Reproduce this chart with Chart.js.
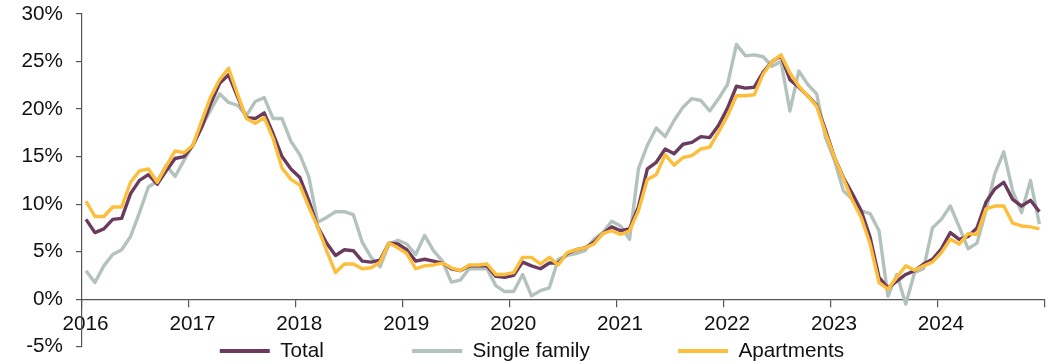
<!DOCTYPE html>
<html>
<head>
<meta charset="utf-8">
<script src="https://cdn.jsdelivr.net/npm/chart.js@4.4.1/dist/chart.umd.min.js"></script>
<style>
  html, body { margin: 0; padding: 0; background: #ffffff; }
  #wrap { width: 1061px; height: 364px; }
</style>
</head>
<body>
<div id="wrap"><canvas id="c" width="1061" height="364"></canvas></div>
<script>
// ---------------- data ----------------
const START_YEAR = 2016;
const YEAR_LABELS = ['2016', '2017', '2018', '2019', '2020', '2021', '2022', '2023', '2024', ''];
const SERIES_NAMES = ['Total', 'Single family', 'Apartments'];

const TOTAL = [
  8.4, 7.0, 7.4, 8.4, 8.5, 11.1, 12.5, 13.1, 12.1, 13.5, 14.8, 15.0,
  16.2, 18.1, 20.6, 22.7, 23.6, 21.3, 19.1, 19.0, 19.6, 17.4, 15.0, 13.7,
  12.8, 10.4, 7.6, 5.9, 4.6, 5.2, 5.1, 4.0, 3.9, 4.1, 5.9, 5.8,
  5.2, 4.0, 4.2, 4.0, 3.8, 3.2, 3.0, 3.5, 3.5, 3.5, 2.4, 2.3,
  2.5, 3.9, 3.5, 3.2, 3.8, 3.8, 4.8, 5.2, 5.4, 6.0, 6.9, 7.6,
  7.2, 7.4, 9.7, 13.7, 14.4, 15.8, 15.3, 16.3, 16.5, 17.1, 17.0, 18.3,
  20.1, 22.4, 22.2, 22.3, 23.9, 25.0, 25.6, 23.1, 22.3, 21.4, 20.4, 17.8,
  14.9, 12.8, 11.1, 9.3, 6.5, 2.3, 1.2, 1.9, 2.6, 3.0, 3.7, 4.2,
  5.3, 7.0, 6.3, 6.6, 7.5, 10.2, 11.6, 12.3, 10.5, 9.8, 10.4, 9.2
];
const SINGLE_FAMILY = [
  3.0, 1.75, 3.5, 4.7, 5.2, 6.6, 9.1, 11.8, 12.4, 14.1, 12.9, 14.6,
  16.2, 18.2, 19.9, 21.6, 20.7, 20.4, 19.3, 20.8, 21.2, 19.0, 19.0, 16.6,
  15.2, 12.9, 8.1, 8.6, 9.2, 9.2, 8.9, 6.0, 4.4, 3.4, 5.8, 6.2,
  5.8, 4.7, 6.7, 5.1, 4.0, 1.8, 2.0, 3.2, 3.2, 3.2, 1.4, 0.8,
  0.8, 2.6, 0.35, 0.9, 1.2, 4.2, 4.6, 4.8, 5.1, 6.3, 7.0, 8.2,
  7.7, 6.3, 13.7, 16.2, 18.0, 17.1, 18.8, 20.2, 21.1, 20.9, 19.8, 21.1,
  22.6, 26.8, 25.6, 25.7, 25.5, 24.5, 25.0, 19.8, 24.0, 22.6, 21.6, 17.0,
  14.6, 11.4, 10.5, 9.3, 9.0, 7.2, 0.3, 2.6, -0.5, 2.8, 3.2, 7.5,
  8.4, 9.8, 7.6, 5.3, 5.9, 9.3, 13.2, 15.5, 11.4, 9.1, 12.5, 7.9
];
const APARTMENTS = [
  10.3, 8.7, 8.7, 9.7, 9.7, 12.3, 13.5, 13.7, 12.3, 14.0, 15.6, 15.4,
  16.2, 18.8, 21.3, 23.1, 24.3, 21.6, 19.0, 18.5, 19.1, 16.9, 13.8, 12.6,
  12.0, 9.7, 7.6, 5.1, 2.8, 3.7, 3.7, 3.2, 3.3, 3.9, 5.9, 5.4,
  4.8, 3.2, 3.5, 3.6, 3.8, 3.3, 3.0, 3.6, 3.6, 3.7, 2.6, 2.6,
  2.8, 4.4, 4.4, 3.7, 4.4, 3.6, 4.9, 5.2, 5.4, 5.8, 6.9, 7.2,
  6.8, 7.2, 9.3, 12.6, 13.1, 15.2, 14.1, 14.9, 15.1, 15.8, 16.0, 17.6,
  19.3, 21.4, 21.4, 21.5, 23.7, 25.0, 25.7, 23.8, 22.4, 21.4, 20.3, 17.5,
  14.9, 12.7, 10.4, 8.6, 5.8, 1.75, 1.05, 2.3, 3.5, 3.05, 3.5, 3.9,
  4.9, 6.3, 5.8, 6.9, 6.8, 9.5, 9.8, 9.8, 8.0, 7.7, 7.6, 7.4
];

// monthly categories (one per value), plotted at mid-month on a month axis
const MONTHS = TOTAL.map((_, i) =>
  (START_YEAR + Math.floor(i / 12)) + '-' + String(i % 12 + 1).padStart(2, '0'));

// ---------------- style ----------------
const COLORS = ['#6b3b5f', '#b3c3bc', '#fdbf3b'];
const FONT = "'Liberation Sans', Arial, Helvetica, sans-serif";
const FS = 20.7;
const AXIS_COLOR = '#555555';
const TEXT_COLOR = '#111111';
const MID_MONTH = 0.45;
const LEGEND_BAND = 17.3;   // space under the plot reserved for legend
const LEGEND_MID = 351;     // vertical centre of legend row
const LEGEND_CENTER = 532;  // horizontal centre of legend row
const LEGEND_PAD = 88.3;

function toPoints(values) {
  return values.map((v, i) => ({ x: MONTHS.indexOf(MONTHS[i]) + MID_MONTH, y: v }));
}

const legendPlacement = {
  id: 'legendPlacement',
  beforeUpdate(chart) {
    const lg = chart.legend;
    if (lg && !lg.__patched) {
      const origFit = lg.fit.bind(lg);
      lg.fit = function () { origFit(); this.height = LEGEND_BAND; };
      lg.__patched = true;
    }
  },
  afterLayout(chart) {
    const lg = chart.legend;
    if (!lg) return;
    lg.top = LEGEND_MID - LEGEND_PAD - FS / 2;
    lg.bottom = chart.height;
    lg.left = 0;
    lg.right = LEGEND_CENTER * 2;
  }
};

const datasets = [TOTAL, SINGLE_FAMILY, APARTMENTS].map((vals, k) => ({
  label: SERIES_NAMES[k],
  data: toPoints(vals),
  borderColor: COLORS[k],
  backgroundColor: COLORS[k],
  borderWidth: 3.4,
  pointRadius: 0,
  pointHoverRadius: 0,
  tension: 0,
  fill: false,
  borderJoinStyle: 'round',
  order: [1, 2, 0][k]
}));

new Chart(document.getElementById('c'), {
  type: 'line',
  data: { datasets },
  plugins: [legendPlacement],
  options: {
    responsive: false,
    animation: false,
    devicePixelRatio: 1,
    layout: { padding: { left: 0, right: 16.7, top: 14, bottom: 0 } },
    plugins: {
      title: { display: false },
      tooltip: { enabled: false },
      legend: {
        display: true,
        position: 'bottom',
        labels: {
          font: { family: FONT, size: FS },
          color: TEXT_COLOR,
          boxWidth: 50,
          boxHeight: 4,
          padding: LEGEND_PAD,
          generateLabels: (chart) => chart.data.datasets.map((ds, i) => ({
            text: ds.label,
            fillStyle: ds.borderColor,
            strokeStyle: ds.borderColor,
            lineWidth: 0,
            hidden: false,
            datasetIndex: i,
            fontColor: TEXT_COLOR
          }))
        }
      }
    },
    scales: {
      x: {
        type: 'linear',
        position: { y: 0 },
        min: 0,
        max: MONTHS.length,
        afterFit: (s) => { s.height = 0; s.paddingTop = 0; s.paddingBottom = 0; },
        border: { display: true, color: AXIS_COLOR, width: 1.2 },
        grid: { display: true, drawOnChartArea: false, drawTicks: true, tickLength: 7, color: AXIS_COLOR, lineWidth: 1.2 },
        ticks: {
          stepSize: 12,
          autoSkip: false,
          maxRotation: 0,
          padding: 6,
          labelOffset: 3.5,
          color: TEXT_COLOR,
          font: { family: FONT, size: FS },
          callback: (v) => YEAR_LABELS[Math.round(v / 12)] ?? ''
        }
      },
      y: {
        type: 'linear',
        position: 'left',
        min: -5,
        max: 30,
        afterFit: (s) => { s.width = 82; s.paddingTop = 0; s.paddingBottom = 0; },
        border: { display: true, color: AXIS_COLOR, width: 1.2 },
        grid: { display: true, drawOnChartArea: false, drawTicks: true, tickLength: 6, color: AXIS_COLOR, lineWidth: 1.2 },
        ticks: {
          stepSize: 5,
          padding: 13,
          color: TEXT_COLOR,
          font: { family: FONT, size: FS },
          callback: (v) => v + '%'
        }
      }
    }
  }
});
</script>
</body>
</html>
